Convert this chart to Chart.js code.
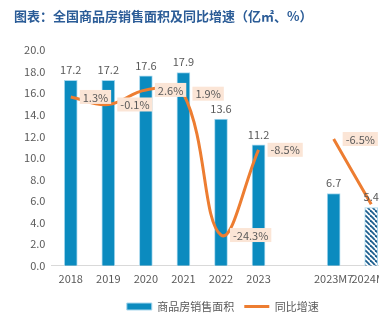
<!DOCTYPE html>
<html lang="zh-CN">
<head>
<meta charset="utf-8">
<title>全国商品房销售面积及同比增速</title>
<script src="https://cdn.jsdelivr.net/npm/chart.js@4/dist/chart.umd.min.js"></script>
<style>
  html, body { margin: 0; padding: 0; background: #fff; overflow: hidden; }
  #wrap { position: relative; width: 379px; height: 323px; overflow: hidden; }
  #title {
    position: absolute; left: 14px; top: 6px; z-index: 2;
    font: bold 13px "Noto Sans CJK SC", "Noto Sans", sans-serif;
    color: #2b5c97; white-space: nowrap;
  }
  #chart { position: absolute; left: 0; top: 0; }
</style>
</head>
<body>
<div id="wrap">
  <div id="title">图表：全国商品房销售面积及同比增速（亿㎡、%）</div>
  <canvas id="chart" width="400" height="323"></canvas>
</div>
<script>
// categories: the blank slot separates the full years from the Jan–Jul pair
const categories = ["2018", "2019", "2020", "2021", "2022", "2023", "", "2023M7", "2024M7"];
const salesArea = [17.2, 17.2, 17.6, 17.9, 13.6, 11.2, null, 6.7, 5.4];     // 亿㎡
const yoyGrowth = [1.3, -0.1, 2.6, 1.9, -24.3, -8.5, null, -6.5, -18.6];    // %
const seriesNames = ["商品房销售面积", "同比增速"];

const FONT = '"Noto Sans CJK SC", "Noto Sans", sans-serif';
const GREY = "#595959";
const BLUE = "#0b8bbf";
const ORANGE = "#ed7d31";

// diagonal hatch for the latest (partial-year) bar
function makeHatch() {
  const s = 5, c = document.createElement("canvas");
  c.width = s; c.height = s;
  const g = c.getContext("2d");
  g.fillStyle = "#fff"; g.fillRect(0, 0, s, s);
  g.strokeStyle = "#1d5f8f"; g.lineWidth = 1.8;
  [-s, 0, s].forEach((k) => { g.beginPath(); g.moveTo(k, 0); g.lineTo(k + s, s); g.stroke(); });
  return g.createPattern(c, "repeat");
}
const hatch = makeHatch();
const lastIdx = salesArea.length - 1;

// bar values above bars, growth values in peach boxes right of the line points
const valueLabels = {
  id: "valueLabels",
  afterLayout(chart) {
    // the source legend sits a bit right of the canvas centre
    if (chart.legend) { chart.legend.left += 19; chart.legend.right += 19; }
  },
  afterDatasetsDraw(chart) {
    const ctx = chart.ctx;
    ctx.save();
    ctx.font = "11px " + FONT;
    ctx.fillStyle = GREY;
    ctx.textAlign = "center";
    ctx.textBaseline = "bottom";
    chart.getDatasetMeta(0).data.forEach((bar, i) => {
      const v = salesArea[i];
      if (v == null) return;
      ctx.fillText(v.toFixed(1), bar.x, bar.y - 5);
    });
    ctx.textAlign = "left";
    ctx.textBaseline = "middle";
    chart.getDatasetMeta(1).data.forEach((pt, i) => {
      const v = yoyGrowth[i];
      if (v == null) return;
      const txt = v.toFixed(1) + "%";
      const w = ctx.measureText(txt).width + 6;
      const x = pt.x + 9, y = pt.y;
      ctx.fillStyle = "#fbe5d6";
      ctx.fillRect(x, y - 7, w, 14);
      ctx.fillStyle = GREY;
      ctx.fillText(txt, x + 3, y + 0.5);
    });
    ctx.restore();
  },
};

Chart.defaults.font.family = FONT;
Chart.defaults.font.size = 11;
Chart.defaults.color = GREY;

new Chart(document.getElementById("chart"), {
  data: {
    labels: categories,
    datasets: [
      {
        type: "bar", label: seriesNames[0], data: salesArea, yAxisID: "y", order: 1,
        backgroundColor: salesArea.map((v, i) => (i === lastIdx ? hatch : BLUE)),
        borderColor: "#a9d8ee", borderWidth: 1, barThickness: 13,
        pointStyle: "rect",
      },
      {
        type: "line", label: seriesNames[1], data: yoyGrowth, yAxisID: "y1", order: 0,
        borderColor: ORANGE, backgroundColor: ORANGE, borderWidth: 3,
        tension: 0.4, pointRadius: 0, spanGaps: false, pointStyle: "line",
      },
    ],
  },
  options: {
    responsive: false,
    animation: false,
    layout: { padding: { top: 50, left: 17.6, right: 10, bottom: 1 } },
    plugins: {
      legend: {
        position: "bottom",
        labels: {
          usePointStyle: true, pointStyleWidth: 25, boxHeight: 7, color: GREY,
          font: { size: 11 }, padding: 10,
          sort: (a, b) => a.datasetIndex - b.datasetIndex,
        },
      },
      tooltip: { enabled: false },
    },
    scales: {
      x: {
        grid: { display: false, drawTicks: false },
        border: { color: "#d9d9d9" },
        ticks: { autoSkip: false, maxRotation: 0, padding: 6 },
      },
      y: {
        position: "left", min: 0, max: 20,
        grid: { display: false, drawTicks: false }, border: { display: false },
        ticks: { stepSize: 2, padding: 6.5, callback: (v) => v.toFixed(1) },
      },
      y1: { display: false, min: -30, max: 10 },
    },
  },
  plugins: [valueLabels],
});
</script>
</body>
</html>
